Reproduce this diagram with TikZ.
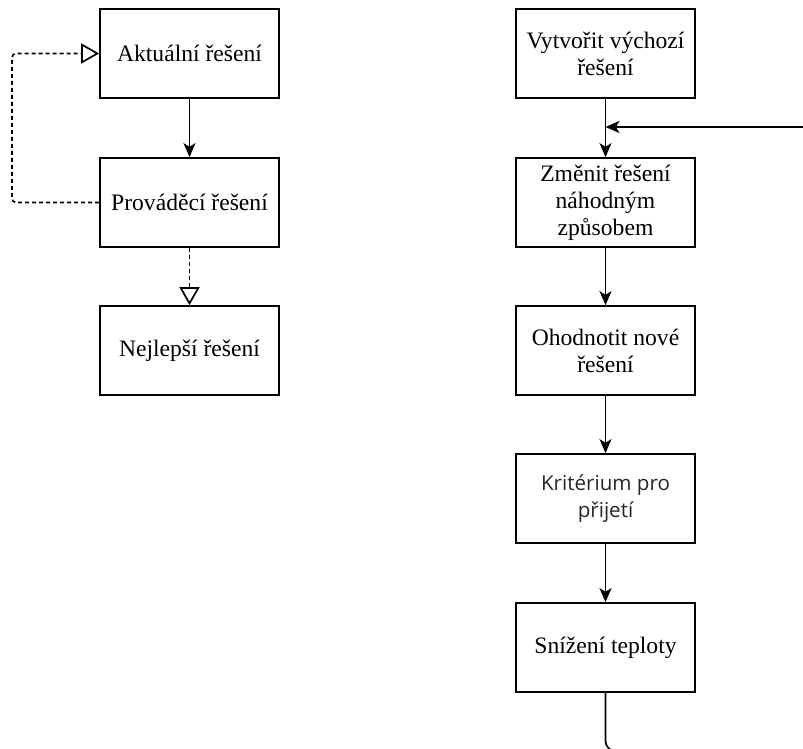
\documentclass[tikz,border=0pt]{standalone}
\usepackage{fontspec}
\setmainfont{Liberation Serif}
\newfontfamily\uifont{Open Sans}
\usetikzlibrary{arrows.meta}

\begin{document}
\begin{tikzpicture}[x=0.5pt, y=-0.5pt, line width=0.85pt,
    box/.style={draw, rectangle, minimum width=89.5pt, minimum height=44.5pt,
        align=center, inner sep=2pt, font=\fontsize{11.8}{13.5}\selectfont},
    flow/.style={-{Stealth[length=7pt, width=6pt, inset=1.8pt]}},
    hint/.style={dash pattern=on 2pt off 1.5pt, -{Triangle[open, length=9pt, width=10pt]}}]
    \useasboundingbox (0, 0) rectangle (803, 749);

    % levy diagram
    \node[box] at (189.5, 53.5) (akt) {Aktuální řešení};
    \node[box] at (189.5, 202.5) (prov) {Prováděcí řešení};
    \node[box] at (189.5, 350.5) (nej) {Nejlepší řešení};

    \coordinate (bend) at (12, 202.5);

    \draw[flow] (akt) -- (prov);
    \draw[hint, rounded corners=2pt] (prov.west) -- (bend) |- (akt.west);
    \draw[hint] (prov) -- (nej);

    % pravy diagram
    \node[box] at (605.5, 53.5) (vyt) {Vytvořit výchozí\\řešení};
    \node[box] at (605.5, 202.5) (zmen) {Změnit řešení\\náhodným\\způsobem};
    \node[box] at (605.5, 350.5) (ohod) {Ohodnotit nové\\řešení};
    \node[box, font=\uifont\fontsize{10.3}{13.5}\selectfont, text=black!85] at (605.5, 498.5) (krit) {Kritérium pro\\přijetí};
    \node[box] at (605.5, 647.5) (sniz) {Snížení teploty};

    \coordinate (join) at (605.5, 127);
    \coordinate (back) at (830, 751);

    \draw[flow] (vyt) -- (zmen);
    \draw[flow] (zmen) -- (ohod);
    \draw[flow] (ohod) -- (krit);
    \draw[flow] (krit) -- (sniz);

    \begin{scope}
        \clip (0, 0) rectangle (803, 749);
        \draw[flow, rounded corners=5pt] (sniz) |- (back) |- (join);
    \end{scope}
\end{tikzpicture}
\end{document}
